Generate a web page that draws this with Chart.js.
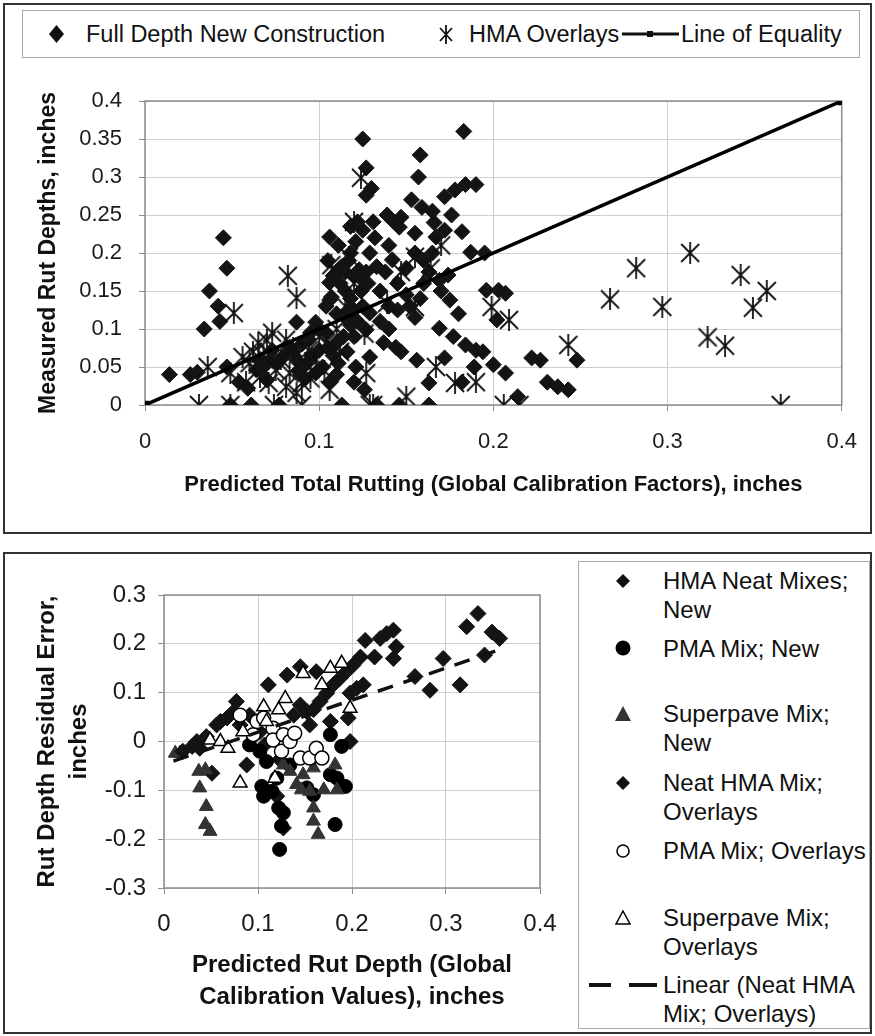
<!DOCTYPE html>
<html>
<head>
<meta charset="utf-8">
<script src="https://cdn.jsdelivr.net/npm/chart.js@4.4.1/dist/chart.umd.min.js"></script>
<style>
body{margin:0;background:#fff;font-family:"Liberation Sans",Arial,sans-serif;color:#111}
#page{position:relative;width:875px;height:1036px;overflow:hidden}
.panel{position:absolute;border:2px solid #333;box-sizing:border-box}
#topPanel{left:3px;top:3px;width:869px;height:531px}
#botPanel{left:3px;top:552px;width:869px;height:482px}
canvas{position:absolute}
#c1{left:0;top:60px}
#c2{left:0;top:560px}
.legend{position:absolute;border:1px solid #aaa;background:#fff;box-sizing:border-box}
#leg1{left:22px;top:10px;width:838px;height:48px;font-size:23.5px}
#leg2{left:578px;top:561px;width:292px;height:468px;font-size:24px}
.mk{position:absolute}
.tx{position:absolute;white-space:nowrap}
#leg1 .tx{top:0;line-height:46px}
#leg2 .tx{left:84px;line-height:29px}
</style>
</head>
<body>
<div id="page">
  <div class="panel" id="topPanel"></div>
  <div class="panel" id="botPanel"></div>

  <div class="legend" id="leg1">
    <svg class="mk" style="left:26px;top:14px" width="15" height="18"><polygon points="7.5,0 15,9 7.5,18 0,9" fill="#111"/></svg>
    <span class="tx" style="left:63px">Full Depth New Construction</span>
    <svg class="mk" style="left:415px;top:14px" width="16" height="19"><path d="M2,3L14,16M14,3L2,16M8,0L8,19" stroke="#111" stroke-width="1.8"/></svg>
    <span class="tx" style="left:446px">HMA Overlays</span>
    <svg class="mk" style="left:599px;top:19px" width="57" height="8"><path d="M0,4L57,4" stroke="#111" stroke-width="3"/><rect x="25" y="1" width="6" height="6" fill="#111"/></svg>
    <span class="tx" style="left:658px">Line of Equality</span>
  </div>

  <div class="legend" id="leg2">
    <svg class="mk" style="left:37px;top:12px" width="14" height="14"><polygon points="7,0 14,7 7,14 0,7" fill="#111"/></svg>
    <div class="tx" style="top:4px">HMA Neat Mixes;<br>New</div>
    <svg class="mk" style="left:36px;top:78px" width="16" height="16"><circle cx="8" cy="8" r="7.5" fill="#000"/></svg>
    <div class="tx" style="top:72px">PMA Mix; New</div>
    <svg class="mk" style="left:36px;top:144px" width="16" height="15"><polygon points="8,0 16,15 0,15" fill="#333"/></svg>
    <div class="tx" style="top:137px">Superpave Mix;<br>New</div>
    <svg class="mk" style="left:37px;top:214px" width="14" height="14"><polygon points="7,0 14,7 7,14 0,7" fill="#111"/></svg>
    <div class="tx" style="top:206px">Neat HMA Mix;<br>Overlays</div>
    <svg class="mk" style="left:37px;top:282px" width="14" height="14"><circle cx="7" cy="7" r="6" fill="#fff" stroke="#000" stroke-width="1.5"/></svg>
    <div class="tx" style="top:274px">PMA Mix; Overlays</div>
    <svg class="mk" style="left:36px;top:348px" width="16" height="15"><polygon points="8,1 15,14 1,14" fill="#fff" stroke="#000" stroke-width="1.5"/></svg>
    <div class="tx" style="top:341px">Superpave Mix;<br>Overlays</div>
    <svg class="mk" style="left:10px;top:420px" width="68" height="6"><path d="M0,3L22,3M40,3L68,3" stroke="#111" stroke-width="4"/></svg>
    <div class="tx" style="top:408px">Linear (Neat HMA<br>Mix; Overlays)</div>
  </div>

  <canvas id="c1" width="875" height="470"></canvas>
  <canvas id="c2" width="578" height="470"></canvas>
</div>

<script>
// top chart: measured vs predicted rut depth (in.)
var fullDepth = [
  [0.014,0.04],[0.026,0.04],[0.03,0.043],[0.034,0.1],[0.037,0.15],[0.042,0.13],[0.043,0.11],[0.045,0.22],
  [0.047,0.18],[0.047,0.05],[0.049,0],[0.054,0.03],[0.059,0.022],[0.061,0],[0.064,0.046],[0.066,0.059],
  [0.068,0.05],[0.07,0.033],[0.072,0.06],[0.073,0.072],[0.076,0.055],[0.077,0],[0.08,0.065],[0.083,0.076],
  [0.085,0.07],[0.087,0.109],[0.087,0.059],[0.088,0.045],[0.09,0.08],[0.092,0.035],[0.093,0.055],[0.094,0.086],
  [0.095,0.095],[0.096,0.065],[0.098,0.109],[0.098,0.042],[0.1,0.072],[0.1,0.1],[0.102,0.05],[0.104,0.095],
  [0.104,0.13],[0.105,0.075],[0.105,0.19],[0.106,0.03],[0.106,0.138],[0.106,0.161],[0.106,0.221],[0.107,0.142],
  [0.108,0.065],[0.108,0.17],[0.11,0.082],[0.11,0.04],[0.11,0.12],[0.111,0.21],[0.111,0.055],[0.112,0.16],
  [0.112,0.18],[0.113,0.182],[0.113,0],[0.114,0.09],[0.115,0.15],[0.115,0.115],[0.115,0.175],[0.116,0.07],
  [0.117,0.125],[0.117,0.19],[0.118,0.14],[0.118,0.105],[0.118,0.2],[0.118,0.235],[0.12,0.17],[0.12,0.09],
  [0.12,0.125],[0.12,0.03],[0.121,0.05],[0.121,0.215],[0.122,0.241],[0.122,0.11],[0.123,0.178],[0.124,0.15],
  [0.125,0.35],[0.125,0.164],[0.125,0.13],[0.125,0.23],[0.126,0.02],[0.127,0.312],[0.127,0.276],[0.127,0.099],
  [0.127,0.175],[0.128,0.16],[0.129,0.2],[0.129,0.121],[0.129,0.063],[0.13,0.285],[0.131,0.241],[0.132,0.22],
  [0.133,0.182],[0.133,0],[0.135,0.15],[0.135,0.11],[0.137,0.082],[0.138,0.175],[0.139,0.25],[0.14,0.21],
  [0.14,0.13],[0.14,0.1],[0.142,0.191],[0.142,0.243],[0.144,0.076],[0.145,0.16],[0.145,0.125],[0.146,0.234],
  [0.146,0],[0.147,0.07],[0.147,0.247],[0.15,0.145],[0.15,0.18],[0.152,0.13],[0.153,0.27],[0.155,0.226],
  [0.155,0.2],[0.155,0.115],[0.156,0.059],[0.157,0.3],[0.158,0.329],[0.158,0.14],[0.159,0.26],[0.16,0.19],
  [0.16,0.16],[0.163,0.029],[0.163,0],[0.163,0.175],[0.165,0.2],[0.165,0.255],[0.166,0.24],[0.167,0.221],
  [0.169,0.164],[0.169,0.101],[0.17,0.15],[0.172,0.274],[0.172,0.062],[0.172,0.23],[0.174,0.171],[0.175,0.138],
  [0.176,0.25],[0.177,0.09],[0.178,0.283],[0.18,0.12],[0.182,0.228],[0.182,0.03],[0.183,0.36],[0.184,0.29],
  [0.184,0.079],[0.187,0.201],[0.189,0.05],[0.19,0.29],[0.19,0.072],[0.194,0.07],[0.195,0.2],[0.196,0.151],
  [0.2,0.053],[0.202,0.112],[0.203,0.151],[0.207,0.042],[0.207,0.147],[0.214,0.011],[0.222,0.062],[0.227,0.059],
  [0.231,0.03],[0.237,0.024],[0.243,0.02],[0.248,0.059]
];
var hmaOverlays = [
  [0.031,0],[0.036,0.05],[0.049,0],[0.049,0.042],[0.051,0.121],[0.056,0.063],[0.058,0.03],[0.06,0.055],
  [0.062,0.07],[0.065,0.082],[0.066,0.037],[0.068,0.065],[0.07,0.085],[0.071,0.029],[0.073,0.095],[0.074,0],
  [0.075,0.046],[0.078,0.06],[0.081,0.086],[0.081,0.024],[0.082,0.17],[0.083,0.042],[0.085,0.075],[0.087,0.141],
  [0.087,0.016],[0.09,0],[0.09,0.029],[0.092,0.055],[0.094,0.072],[0.095,0.035],[0.098,0.06],[0.1,0.09],
  [0.103,0.045],[0.104,0.082],[0.106,0.02],[0.107,0.184],[0.11,0.1],[0.112,0.07],[0.115,0.13],[0.117,0.195],
  [0.12,0.16],[0.12,0.241],[0.124,0.299],[0.126,0.094],[0.127,0.042],[0.129,0],[0.131,0],[0.139,0.134],
  [0.147,0.175],[0.15,0.011],[0.155,0.195],[0.155,0.129],[0.164,0.18],[0.167,0.05],[0.17,0.21],[0.178,0.029],
  [0.19,0.03],[0.199,0.129],[0.206,0],[0.209,0.112],[0.215,0],[0.243,0.079],[0.267,0.139],[0.282,0.18],
  [0.297,0.129],[0.313,0.2],[0.323,0.089],[0.333,0.078],[0.342,0.171],[0.349,0.128],[0.357,0.15],[0.365,0]
];
var equality = [[0,0],[0.4,0.4]];

// bottom chart: residual error vs predicted rut depth (in.)
var hmaNeatNew = [
  [0.035,0],[0.038,-0.014],[0.051,-0.065],[0.056,0.034],[0.06,0.041],[0.067,0.048],[0.074,0.061],[0.077,0.082],
  [0.081,0.034],[0.088,-0.048],[0.091,0.054],[0.102,0.02],[0.107,-0.007],[0.111,0.116],[0.12,-0.112],[0.123,-0.037],
  [0.127,-0.177],[0.131,0.136],[0.138,0.054],[0.145,0.075],[0.145,0.153],[0.152,0.061],[0.155,0.034],[0.162,0.143],
  [0.177,0.041],[0.196,0.048],[0.198,0]
];
var pmaNew = [
  [0.091,-0.007],[0.102,-0.02],[0.104,-0.092],[0.106,-0.112],[0.109,-0.041],[0.115,-0.102],[0.12,-0.075],[0.122,-0.136],
  [0.123,-0.221],[0.125,-0.173],[0.127,-0.146],[0.134,-0.048],[0.152,-0.095],[0.159,-0.109],[0.177,0.014],[0.177,-0.068],
  [0.182,-0.17],[0.184,-0.075],[0.189,-0.01],[0.193,-0.092]
];
var superpaveNew = [
  [0.012,-0.024],[0.017,-0.024],[0.037,-0.061],[0.044,-0.058],[0.038,-0.095],[0.045,-0.133],[0.044,-0.17],[0.049,-0.184],
  [0.127,-0.048],[0.134,-0.061],[0.141,-0.088],[0.146,-0.099],[0.148,-0.068],[0.155,-0.102],[0.159,-0.054],[0.159,-0.136],
  [0.159,-0.163],[0.164,-0.19],[0.17,-0.099],[0.182,-0.048],[0.184,-0.099]
];
var neatOverlays = [
  [0.02,-0.02],[0.03,-0.01],[0.045,0.01],[0.159,0.065],[0.166,0.082],[0.173,0.099],[0.18,0.116],[0.187,0.129],
  [0.194,0.143],[0.198,0.099],[0.201,0.156],[0.205,0.109],[0.209,0.173],[0.212,0.116],[0.214,0.207],[0.224,0.173],
  [0.23,0.211],[0.237,0.221],[0.244,0.228],[0.244,0.17],[0.247,0.194],[0.267,0.133],[0.283,0.105],[0.297,0.17],
  [0.315,0.116],[0.322,0.235],[0.334,0.262],[0.341,0.177],[0.349,0.224],[0.357,0.211]
];
var pmaOverlays = [
  [0.081,0.054],[0.095,0.014],[0.099,0.041],[0.106,0.048],[0.116,0.027],[0.116,0.003],[0.125,-0.02],[0.127,0.014],
  [0.134,0],[0.139,0.017],[0.145,-0.034],[0.155,-0.034],[0.162,-0.014],[0.168,-0.034]
];
var superpaveOverlays = [
  [0.049,0.003],[0.06,0],[0.068,-0.014],[0.081,-0.085],[0.084,0.02],[0.106,0.071],[0.109,0.041],[0.118,-0.075],
  [0.122,0.065],[0.129,0.088],[0.148,0.139],[0.168,0.116],[0.177,0.15],[0.189,0.16],[0.198,0.068]
];
var trendNeatOverlays = [[0.01,-0.04],[0.36,0.19]];

function pts(arr) {
  return arr.map(function(p) { return {x: p[0], y: p[1]}; });
}
function fmt(v) {
  return String(Number(v.toFixed(2)));
}

// excel style star marker: X with a vertical bar
function starMark(size) {
  var c = document.createElement("canvas");
  c.width = size; c.height = size;
  var g = c.getContext("2d");
  var m = size / 2, d = size / 2 - 2;
  g.strokeStyle = "#111";
  g.lineWidth = 1.8;
  g.beginPath();
  g.moveTo(m - d, m - d); g.lineTo(m + d, m + d);
  g.moveTo(m + d, m - d); g.lineTo(m - d, m + d);
  g.moveTo(m, 0); g.lineTo(m, size);
  g.stroke();
  return c;
}

// grey frame around the plot area
var frame = {
  id: "frame",
  beforeDatasetsDraw: function(chart) {
    var a = chart.chartArea, ctx = chart.ctx;
    ctx.save();
    ctx.strokeStyle = "#8c8c8c";
    ctx.lineWidth = 1.5;
    ctx.strokeRect(a.left, a.top, a.right - a.left, a.bottom - a.top);
    ctx.restore();
  }
};

Chart.defaults.font.family = '"Liberation Sans", Arial, sans-serif';
Chart.defaults.color = "#1a1a1a";

function axis(min, max, step, size, tickPad, fixed, titleText, titleSize, titlePad) {
  return {
    type: "linear", min: min, max: max,
    ticks: {stepSize: step, font: {size: size}, padding: tickPad, callback: fmt, color: "#1a1a1a"},
    grid: {color: "#cfcfcf", lineWidth: 1, tickLength: 6, tickColor: "#8c8c8c"},
    border: {display: false},
    title: {display: true, text: titleText, color: "#111",
            font: {size: titleSize, weight: "bold", lineHeight: 1.33}, padding: titlePad},
    afterFit: fixed
  };
}

var starImg = starMark(22);

new Chart(document.getElementById("c1"), {
  type: "scatter",
  data: {
    datasets: [
      {label: "Line of Equality", data: pts(equality), showLine: true, borderColor: "#000", borderWidth: 3.5,
       pointStyle: "rect", pointRadius: 3.5, backgroundColor: "#000", order: 0},
      {label: "HMA Overlays", data: pts(hmaOverlays), pointStyle: starImg, order: 1},
      {label: "Full Depth New Construction", data: pts(fullDepth), pointStyle: "rectRot", pointRadius: 8,
       backgroundColor: "#141414", borderColor: "#141414", borderWidth: 1, order: 2}
    ]
  },
  options: {
    responsive: false, animation: false, devicePixelRatio: 1, events: [],
    layout: {padding: {top: 41, right: 30, left: 0, bottom: 0}},
    plugins: {legend: {display: false}, tooltip: {enabled: false}},
    scales: {
      x: axis(0, 0.4, 0.1, 22, 18, function(s) { s.height = 125; },
              "Predicted Total Rutting (Global Calibration Factors), inches", 22, {top: 0, bottom: 30}),
      y: axis(0, 0.4, 0.05, 22, 17, function(s) { s.width = 145; },
              "Measured Rut Depths, inches", 23, {top: 33, bottom: 0})
    }
  },
  plugins: [frame]
});

new Chart(document.getElementById("c2"), {
  type: "scatter",
  data: {
    datasets: [
      {label: "Linear (Neat HMA Mix; Overlays)", data: pts(trendNeatOverlays), showLine: true, pointRadius: 0,
       borderColor: "#111", borderWidth: 3.5, borderDash: [16, 11], order: 0},
      {label: "Superpave Mix; Overlays", data: pts(superpaveOverlays), pointStyle: "triangle", pointRadius: 8,
       backgroundColor: "#fff", borderColor: "#000", borderWidth: 1.5, order: 1},
      {label: "PMA Mix; Overlays", data: pts(pmaOverlays), pointStyle: "circle", pointRadius: 7,
       backgroundColor: "#fff", borderColor: "#000", borderWidth: 1.5, order: 2},
      {label: "Neat HMA Mix; Overlays", data: pts(neatOverlays), pointStyle: "rectRot", pointRadius: 8,
       backgroundColor: "#141414", borderColor: "#141414", borderWidth: 1, order: 3},
      {label: "Superpave Mix; New", data: pts(superpaveNew), pointStyle: "triangle", pointRadius: 8,
       backgroundColor: "#333", borderColor: "#333", borderWidth: 1, order: 4},
      {label: "PMA Mix; New", data: pts(pmaNew), pointStyle: "circle", pointRadius: 7,
       backgroundColor: "#000", borderColor: "#000", borderWidth: 1, order: 5},
      {label: "HMA Neat Mixes; New", data: pts(hmaNeatNew), pointStyle: "rectRot", pointRadius: 8,
       backgroundColor: "#141414", borderColor: "#141414", borderWidth: 1, order: 6}
    ]
  },
  options: {
    responsive: false, animation: false, devicePixelRatio: 1, events: [],
    layout: {padding: {top: 35, right: 38, left: 0, bottom: 0}},
    plugins: {legend: {display: false}, tooltip: {enabled: false}},
    scales: {
      x: axis(0, 0.4, 0.1, 24, 16, function(s) { s.height = 142; },
              ["Predicted Rut Depth (Global", "Calibration Values), inches"], 24, {top: 0, bottom: 17}),
      y: axis(-0.3, 0.3, 0.1, 24, 12, function(s) { s.width = 164; },
              ["Rut Depth Residual Error,", "inches"], 24, {top: 31, bottom: 0})
    }
  },
  plugins: [frame]
});
</script>
</body>
</html>
